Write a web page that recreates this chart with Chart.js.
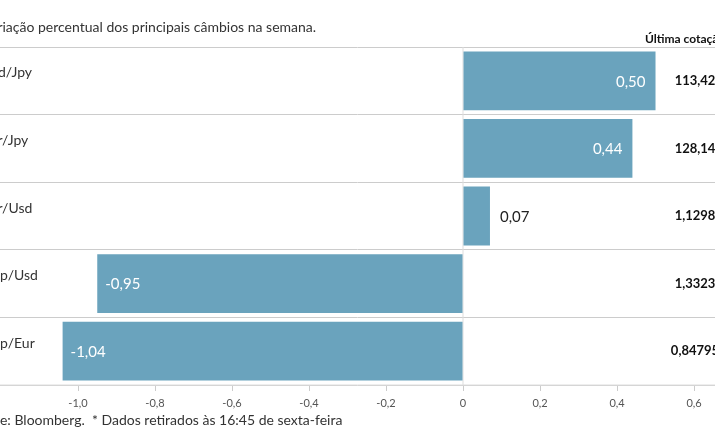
<!DOCTYPE html>
<html><head><meta charset="utf-8">
<script src="https://cdn.jsdelivr.net/npm/chart.js@4"></script>
<style>body{margin:0;background:#fff}#wrap{width:715px;height:445px}</style>
</head><body><div id="wrap"><canvas id="c"></canvas></div>
<script>
// dados
var pares = ["Usd/Jpy", "Eur/Jpy", "Eur/Usd", "Gbp/Usd", "Gbp/Eur"];
var variacao = [0.50, 0.44, 0.07, -0.95, -1.04];
var cotacao = ["113,42", "128,14", "1,1298", "1,3323", "0,84795"];
var ticksX = [-1.0, -0.8, -0.6, -0.4, -0.2, 0, 0.2, 0.4, 0.6];

function fmt(v) { return v.toFixed(2).replace(".", ","); }

var textos = {
  id: "textos",
  afterDatasetsDraw: function(chart) {
    var ctx = chart.ctx, y = chart.scales.y, x = chart.scales.x;
    var meta = chart.getDatasetMeta(0);
    ctx.save();
    ctx.textBaseline = "middle";
    ctx.font = "14px Lato";
    ctx.fillStyle = "#333";
    ctx.textAlign = "left";
    ctx.fillText("Variação percentual dos principais câmbios na semana.", -18, 27);
    ctx.fillText("Fonte: Bloomberg.  * Dados retirados às 16:45 de sexta-feira", -28, 420);
    ctx.font = "bold 12px Lato";
    ctx.fillStyle = "#111";
    ctx.fillText("Última cotação*", 645, 39);
    for (var i = 0; i < pares.length; i++) {
      var yy = y.getPixelForValue(i);
      ctx.font = "14px Lato";
      ctx.fillStyle = "#333";
      ctx.textAlign = "left";
      ctx.fillText(pares[i], -18, yy - 8);
      ctx.font = "bold 13px Lato";
      ctx.fillStyle = "#111";
      ctx.textAlign = "center";
      ctx.fillText(cotacao[i], 695, yy);
      var bar = meta.data[i], v = variacao[i];
      ctx.font = "15px Lato";
      if (v >= 0.2) {
        ctx.fillStyle = "#fff"; ctx.textAlign = "right";
        ctx.fillText(fmt(v), bar.x - 10, yy + 1);
      } else if (v >= 0) {
        ctx.fillStyle = "#222"; ctx.textAlign = "left";
        ctx.fillText(fmt(v), bar.x + 10, yy + 1);
      } else {
        ctx.fillStyle = "#fff"; ctx.textAlign = "left";
        ctx.fillText(fmt(v), bar.x + 8, yy + 1);
      }
    }
    ctx.restore();
  }
};

new Chart(document.getElementById("c"), {
  type: "bar",
  data: { labels: pares, datasets: [{ data: variacao, backgroundColor: "#6aa3bd",
    categoryPercentage: 0.87, barPercentage: 1 }] },
  options: {
    indexAxis: "y", responsive: true, maintainAspectRatio: false, animation: false,
    layout: { padding: { top: 47, left: 0, right: 0, bottom: 0 } },
    plugins: { legend: { display: false }, tooltip: { enabled: false } },
    scales: {
      x: {
        min: -1.2026, max: 0.6545,
        afterBuildTicks: function(s) { s.ticks = ticksX.map(function(v) { return { value: v }; }); },
        afterFit: function(s) { s.height = 60; },
        border: { display: false },
        grid: { drawOnChartArea: false, drawTicks: true, tickLength: 6, color: "#ccc" },
        ticks: { font: { family: "Lato", size: 11 }, color: "#555", padding: 6,
          callback: function(v) { return v === 0 ? "0" : v.toFixed(1).replace(".", ","); } }
      },
      y: {
        afterFit: function(s) { s.width = 0; },
        ticks: { display: false },
        border: { display: false },
        grid: { offset: true, color: "#ccc", drawTicks: false }
      }
    }
  },
  plugins: [textos, {
    id: "zero",
    beforeDatasetsDraw: function(chart) {
      var ctx = chart.ctx, a = chart.chartArea, x0 = chart.scales.x.getPixelForValue(0);
      ctx.save(); ctx.strokeStyle = "#ddd"; ctx.lineWidth = 1;
      ctx.beginPath(); ctx.moveTo(x0, a.top); ctx.lineTo(x0, a.bottom); ctx.stroke();
      ctx.beginPath(); ctx.moveTo(a.left, a.bottom); ctx.lineTo(a.right, a.bottom); ctx.stroke();
      ctx.restore();
    }
  }]
});
</script></body></html>
